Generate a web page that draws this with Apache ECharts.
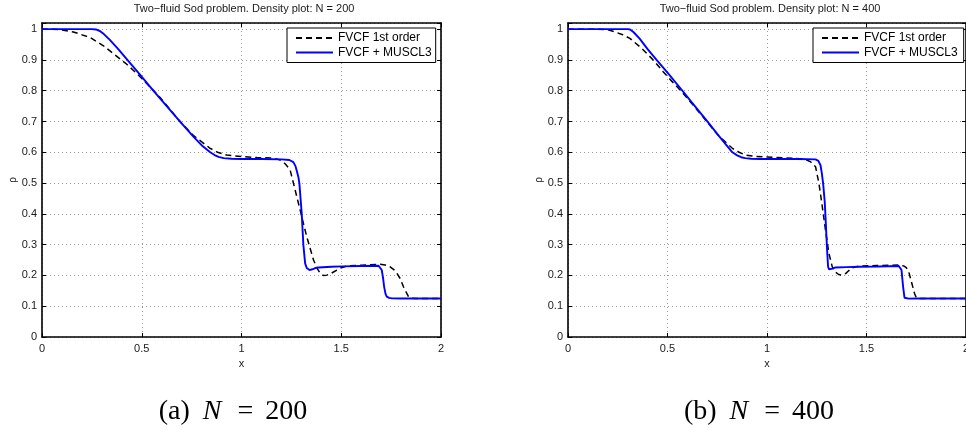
<!DOCTYPE html>
<html><head><meta charset="utf-8">
<script src="https://cdn.jsdelivr.net/npm/echarts@6/dist/echarts.min.js"></script>
<style>html,body{margin:0;padding:0;background:#fff}#c{width:966px;height:430px}</style>
</head><body><div id="c"></div>
<script>
// ---------------- data ----------------
const seriesNames = ['FVCF 1st order', 'FVCF + MUSCL3'];
const panelTitles = ['Two\u2212fluid Sod problem. Density plot: N = 200', 'Two\u2212fluid Sod problem. Density plot: N = 400'];
const captionLabels = ['(a)', '(b)'];
const captionN = ['200', '400'];
const xTickLabels = ['0', '0.5', '1', '1.5', '2'];
const yTickLabels = ['0', '0.1', '0.2', '0.3', '0.4', '0.5', '0.6', '0.7', '0.8', '0.9', '1'];

// N = 200, first order (dashed)
const x200First = [0, 0.05, 0.09, 0.157, 0.241, 0.308, 0.366, 0.425, 0.483, 0.533, 0.592, 0.692, 0.76, 0.843, 0.88, 0.926, 1.0, 1.077, 1.16, 1.194, 1.22, 1.244, 1.269, 1.294, 1.327, 1.361, 1.38, 1.394, 1.41, 1.428, 1.45, 1.478, 1.5, 1.528, 1.6, 1.695, 1.72, 1.745, 1.765, 1.779, 1.795, 1.812, 1.837, 1.85, 1.87, 2.0];
const y200First = [1.0, 1.0, 0.998, 0.991, 0.973, 0.946, 0.916, 0.886, 0.851, 0.818, 0.778, 0.7, 0.654, 0.613, 0.6, 0.591, 0.586, 0.583, 0.581, 0.575, 0.562, 0.542, 0.477, 0.412, 0.326, 0.25, 0.222, 0.207, 0.2, 0.201, 0.207, 0.2175, 0.225, 0.2305, 0.233, 0.236, 0.234, 0.228, 0.218, 0.207, 0.19, 0.163, 0.131, 0.126, 0.125, 0.125];
// N = 200, MUSCL3 (blue)
const x200Muscl = [0, 0.25, 0.27, 0.29, 0.31, 0.34, 0.38, 0.428, 0.49, 0.558, 0.625, 0.692, 0.76, 0.80, 0.843, 0.865, 0.885, 0.91, 0.95, 1.0, 1.1, 1.2, 1.24, 1.26, 1.27, 1.277, 1.285, 1.29, 1.302, 1.31, 1.319, 1.327, 1.341, 1.355, 1.37, 1.386, 1.45, 1.511, 1.6, 1.687, 1.697, 1.703, 1.71, 1.715, 1.722, 1.728, 1.74, 1.754, 1.8, 2.0];
const y200Muscl = [1.0, 1.0, 0.999, 0.994, 0.984, 0.965, 0.937, 0.9, 0.853, 0.8, 0.75, 0.7, 0.65, 0.623, 0.6, 0.591, 0.585, 0.581, 0.579, 0.578, 0.578, 0.577, 0.575, 0.568, 0.556, 0.54, 0.52, 0.5, 0.4, 0.3, 0.239, 0.224, 0.2175, 0.22, 0.224, 0.226, 0.228, 0.2295, 0.2305, 0.2315, 0.229, 0.2175, 0.19, 0.163, 0.14, 0.131, 0.127, 0.1255, 0.125, 0.125];
// N = 400, first order (dashed)
const x400First = [0, 0.15, 0.2, 0.236, 0.275, 0.311, 0.37, 0.428, 0.478, 0.52, 0.57, 0.62, 0.69, 0.755, 0.826, 0.86, 0.893, 0.94, 0.993, 1.094, 1.19, 1.219, 1.244, 1.261, 1.278, 1.294, 1.311, 1.328, 1.345, 1.36, 1.378, 1.395, 1.41, 1.428, 1.46, 1.55, 1.662, 1.687, 1.7, 1.712, 1.728, 1.741, 1.75, 1.77, 2.0];
const y400First = [1.0, 1.0, 0.998, 0.991, 0.982, 0.97, 0.938, 0.9, 0.862, 0.832, 0.798, 0.76, 0.706, 0.655, 0.613, 0.6, 0.591, 0.587, 0.585, 0.582, 0.578, 0.569, 0.553, 0.499, 0.423, 0.347, 0.272, 0.228, 0.21, 0.203, 0.201, 0.206, 0.215, 0.225, 0.23, 0.232, 0.234, 0.231, 0.225, 0.212, 0.174, 0.142, 0.128, 0.125, 0.125];
// N = 400, MUSCL3 (blue)
const x400Muscl = [0, 0.3, 0.312, 0.319, 0.33, 0.36, 0.40, 0.445, 0.5, 0.57, 0.62, 0.692, 0.76, 0.826, 0.85, 0.87, 0.89, 0.92, 0.97, 1.05, 1.15, 1.244, 1.258, 1.269, 1.276, 1.282, 1.29, 1.294, 1.302, 1.307, 1.312, 1.318, 1.33, 1.344, 1.4, 1.461, 1.56, 1.662, 1.67, 1.676, 1.68, 1.684, 1.691, 1.7, 1.712, 1.75, 2.0];
const y400Muscl = [1.0, 1.0, 0.999, 0.997, 0.99, 0.969, 0.935, 0.9, 0.859, 0.804, 0.764, 0.707, 0.652, 0.6, 0.59, 0.584, 0.581, 0.579, 0.578, 0.578, 0.578, 0.577, 0.572, 0.558, 0.53, 0.499, 0.44, 0.39, 0.282, 0.228, 0.22, 0.2175, 0.222, 0.226, 0.227, 0.228, 0.229, 0.2305, 0.228, 0.2175, 0.19, 0.163, 0.1275, 0.1255, 0.1245, 0.125, 0.125];

// ---------------- chart ----------------
const zip = (xs, ys) => xs.map((x, i) => [x, ys[i]]);
const SANS = '"Liberation Sans", Arial, sans-serif';
const SERIF = '"Liberation Serif", serif';
const TXT = '#1a1a1a';
const fmtTick = (labels) => (v) => {
  const s = String(Math.round(v * 1000) / 1000);
  return labels.indexOf(s) >= 0 && Math.abs(v - parseFloat(s)) < 1e-9 ? s : '';
};
const gridDots = { show: true, lineStyle: { color: '#9a9a9a', width: 1, type: [1, 3] } };
const frameLine = { show: true, onZero: false, lineStyle: { color: '#000', width: 1.6 } };
const tickIn = { show: true, inside: true, length: 4, lineStyle: { color: '#000', width: 1 } };

const grids = [
  { left: 42, top: 23, width: 399, height: 314, containLabel: false, outerBoundsMode: 'none' },
  { left: 568, top: 23, width: 398, height: 314, containLabel: false, outerBoundsMode: 'none' }
];
const xAxes = [], yAxes = [];
grids.forEach((g, gi) => {
  xAxes.push({
    gridIndex: gi, type: 'value', min: 0, max: 2, interval: 0.5, position: 'bottom',
    axisLine: frameLine, axisTick: tickIn, splitLine: gridDots,
    axisLabel: { color: TXT, fontSize: 11, fontFamily: SANS, margin: 6, hideOverlap: false, formatter: fmtTick(xTickLabels) },
    name: 'x', nameLocation: 'middle', nameGap: 19,
    nameTextStyle: { color: TXT, fontSize: 11, fontFamily: SANS }
  });
  xAxes.push({
    gridIndex: gi, type: 'value', min: 0, max: 2, interval: 0.5, position: 'top',
    axisLine: frameLine, axisTick: tickIn, splitLine: { show: false }, axisLabel: { show: false }
  });
  yAxes.push({
    gridIndex: gi, type: 'value', min: 0, max: 1.02, interval: 0.1, position: 'left',
    axisLine: frameLine, axisTick: tickIn, splitLine: gridDots,
    axisLabel: { color: TXT, fontSize: 11, fontFamily: SANS, margin: 5, formatter: fmtTick(yTickLabels) },
    name: '\u03c1', nameLocation: 'middle', nameRotate: 90, nameGap: 24,
    nameTextStyle: { color: TXT, fontSize: 10, fontFamily: SANS }
  });
  yAxes.push({
    gridIndex: gi, type: 'value', min: 0, max: 1.02, interval: 0.1, position: 'right',
    axisLine: frameLine, axisTick: tickIn, splitLine: { show: false }, axisLabel: { show: false }
  });
});

const dashStyle = { color: '#000', width: 1.5, type: [6, 4] };
const blueStyle = { color: '#0000ff', width: 1.9, type: 'solid' };
const mk = (name, gi, data, ls) => ({
  name, type: 'line', xAxisIndex: gi * 2, yAxisIndex: gi * 2, data,
  showSymbol: false, symbol: 'none', lineStyle: ls, itemStyle: { color: ls.color },
  animation: false, silent: true
});
const series = [
  mk(seriesNames[0], 0, zip(x200First, y200First), dashStyle),
  mk(seriesNames[1], 0, zip(x200Muscl, y200Muscl), blueStyle),
  mk(seriesNames[0], 1, zip(x400First, y400First), dashStyle),
  mk(seriesNames[1], 1, zip(x400Muscl, y400Muscl), blueStyle)
];

const legendBase = {
  orient: 'vertical', data: seriesNames, top: 28, itemWidth: 37, itemHeight: 12, itemGap: 2.5,
  itemTextGap: 4, backgroundColor: '#fff', borderColor: '#000', borderWidth: 1,
  itemStyle: { opacity: 0 },
  textStyle: { color: '#000', fontSize: 12, fontFamily: SANS, lineHeight: 12 },
  selectedMode: false
};
const legends = [
  Object.assign({}, legendBase, { left: 287, padding: [4, 4, 4, 8] }),
  Object.assign({}, legendBase, { left: 813, padding: [4, 6, 4, 8] })
];

const titleCenters = [244, 770];
const captionCenters = [233, 759];
const graphics = [];
panelTitles.forEach((t, i) => {
  graphics.push({ type: 'text', x: titleCenters[i], y: 9, silent: true,
    style: { text: t, align: 'center', verticalAlign: 'middle', font: '11px ' + SANS, fill: TXT } });
  graphics.push({ type: 'text', x: captionCenters[i], y: 412, silent: true,
    style: {
      text: '{p|' + captionLabels[i] + '}{n|N}{e|=}{d|' + captionN[i] + '}',
      align: 'center', verticalAlign: 'middle',
      rich: {
        p: { fontFamily: SERIF, fontSize: 28, fill: '#000' },
        n: { fontFamily: SERIF, fontStyle: 'italic', fontSize: 28, fill: '#000', padding: [0, 0, 0, 13] },
        e: { fontFamily: SERIF, fontSize: 28, fill: '#000', padding: [0, 0, 0, 16] },
        d: { fontFamily: SERIF, fontSize: 28, fill: '#000', padding: [0, 0, 0, 12] }
      }
    } });
});

const chart = echarts.init(document.getElementById('c'), null, { renderer: 'canvas' });
chart.setOption({
  animation: false,
  backgroundColor: '#fff',
  grid: grids,
  xAxis: xAxes,
  yAxis: yAxes,
  legend: legends,
  series: series,
  graphic: graphics
});
</script></body></html>
